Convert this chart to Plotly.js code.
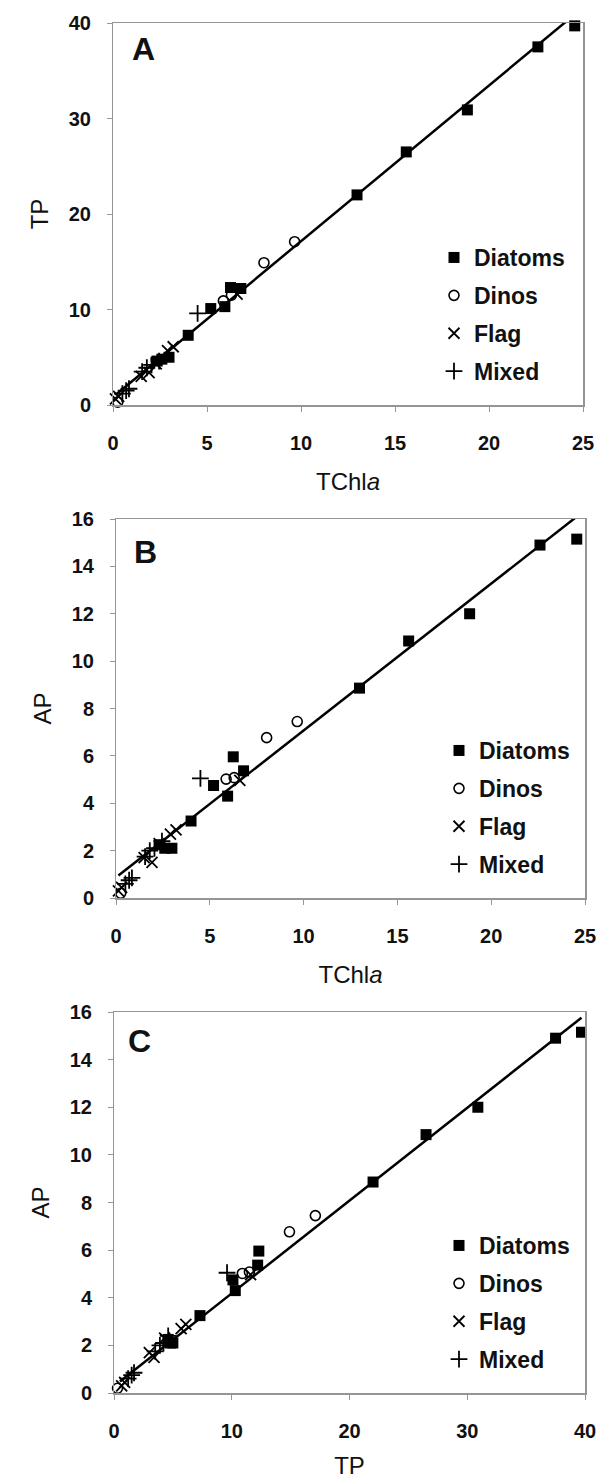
<!DOCTYPE html>
<html>
<head>
<meta charset="utf-8">
<script src="https://cdn.plot.ly/plotly-3.0.1.min.js"></script>
<style>
html,body{margin:0;padding:0;background:#fff;}
#chart{width:599px;height:1481px;}
</style>
</head>
<body>
<div id="chart"></div>
<script>
// ---------- data ----------
const groupNames = ["Diatoms", "Dinos", "Flag", "Mixed"];

const diatomsTChla = [24.56, 22.6, 18.85, 15.6, 12.98, 6.25, 6.8, 5.2, 5.95, 4.0, 2.98, 2.6, 2.35];
const diatomsTP    = [39.7, 37.5, 30.9, 26.5, 22.0, 12.3, 12.2, 10.1, 10.3, 7.3, 5.0, 4.8, 4.6];
const diatomsAP    = [15.15, 14.9, 12.0, 10.85, 8.86, 5.96, 5.37, 4.75, 4.3, 3.25, 2.1, 2.1, 2.25];

const dinosTChla = [9.66, 8.03, 5.87, 6.3, 0.25];
const dinosTP    = [17.1, 14.9, 10.9, 11.5, 0.3];
const dinosAP    = [7.45, 6.77, 5.02, 5.08, 0.2];

const flagTChla = [0.13, 0.3, 1.92, 1.5, 2.3, 3.2, 2.9, 6.6];
const flagTP    = [0.65, 0.9, 3.4, 3.0, 4.3, 6.1, 5.7, 11.6];
const flagAP    = [0.3, 0.45, 1.5, 1.7, 2.3, 2.88, 2.7, 4.97];

const mixedTChla = [4.5, 0.5, 0.7, 0.85, 1.55, 1.8, 2.05, 2.45];
const mixedTP    = [9.6, 1.2, 1.5, 1.7, 3.5, 3.9, 4.2, 4.6];
const mixedAP    = [5.05, 0.6, 0.75, 0.85, 1.75, 2.0, 2.1, 2.4];

// trend-line end points
const trendA_x = [0.13, 24.56], trendA_y = [1.05, 40.9];
const trendB_x = [0.13, 24.56], trendB_y = [0.95, 16.1];
const trendC_x = [0.5, 39.7],   trendC_y = [0.48, 15.76];

const panelLabels = ["A", "B", "C"];
const xTitles = ["TChl<i>a</i>", "TChl<i>a</i>", "TP"];
const yTitles = ["TP", "AP", "AP"];

// ---------- layout helpers ----------
const W = 599, H = 1481;
const FONT = "Liberation Sans, Arial, sans-serif";
const px = v => v / W;
const py = v => 1 - v / H;

const markerStyles = [
  {symbol: "square", size: 11, color: "#000", line: {width: 0}},
  {symbol: "circle-open", size: 10, color: "#000", line: {width: 1.6, color: "#000"}},
  {symbol: "x-thin-open", size: 11, color: "#000", line: {width: 1.8, color: "#000"}},
  {symbol: "cross-thin-open", size: 12, color: "#000", line: {width: 1.8, color: "#000"}}
];

const panels = [
  {xs: [diatomsTChla, dinosTChla, flagTChla, mixedTChla], ys: [diatomsTP, dinosTP, flagTP, mixedTP], tx: trendA_x, ty: trendA_y},
  {xs: [diatomsTChla, dinosTChla, flagTChla, mixedTChla], ys: [diatomsAP, dinosAP, flagAP, mixedAP], tx: trendB_x, ty: trendB_y},
  {xs: [diatomsTP, dinosTP, flagTP, mixedTP], ys: [diatomsAP, dinosAP, flagAP, mixedAP], tx: trendC_x, ty: trendC_y}
];

const traces = [];
panels.forEach((p, i) => {
  const ax = i === 0 ? "" : String(i + 1);
  const leg = i === 0 ? "legend" : "legend" + (i + 1);
  // invisible copy on the overlaid label axes so that they get drawn
  traces.push({
    x: p.tx, y: p.ty, mode: "lines", type: "scatter", opacity: 0,
    line: {color: "#fff", width: 0}, showlegend: false,
    xaxis: "x" + (i + 4), yaxis: "y" + (i + 4), hoverinfo: "skip"
  });
  traces.push({
    x: p.tx, y: p.ty, mode: "lines", type: "scatter",
    line: {color: "#000", width: 2.5}, showlegend: false,
    xaxis: "x" + ax, yaxis: "y" + ax, hoverinfo: "skip"
  });
  groupNames.forEach((g, k) => {
    traces.push({
      x: p.xs[k], y: p.ys[k], mode: "markers", type: "scatter", name: g,
      marker: markerStyles[k], cliponaxis: false,
      xaxis: "x" + ax, yaxis: "y" + ax, legend: leg, legendgroup: leg + g
    });
  });
});

const frameColor = "#959595";
const tickFont = {family: FONT, size: 20, color: "#111", weight: "bold"};
const titleFont = {family: FONT, size: 24, color: "#111"};

// frame + short visible ticks
function frameAxis(domain, range, dtick, anchor) {
  return {
    domain: domain, range: range, dtick: dtick, tick0: 0, anchor: anchor,
    showline: true, mirror: true, linecolor: frameColor, linewidth: 1.5,
    ticks: "outside", ticklen: 5, tickwidth: 1, tickcolor: frameColor,
    showgrid: false, zeroline: false, showticklabels: false
  };
}
// overlaid axis carrying tick labels (pushed away with transparent ticks) and title
function labelAxis(over, anchor, side, range, dtick, title, len, standoff) {
  return {
    overlaying: over, anchor: anchor, side: side, range: range, dtick: dtick, tick0: 0,
    showline: false, showgrid: false, zeroline: false,
    ticks: "outside", ticklen: len, tickcolor: "rgba(0,0,0,0)",
    tickfont: tickFont,
    title: {text: title, font: titleFont, standoff: standoff}
  };
}

const legendBase = {
  font: {family: FONT, size: 23, color: "#111", weight: "bold"},
  bgcolor: "rgba(0,0,0,0)", borderwidth: 0, xanchor: "left", yanchor: "top",
  traceorder: "grouped", tracegroupgap: 5, itemclick: false
};

const layout = {
  width: W, height: H,
  margin: {l: 0, r: 0, t: 0, b: 0},
  paper_bgcolor: "#fff", plot_bgcolor: "#fff",
  showlegend: true,
  font: {family: FONT, color: "#111"},
  xaxis:  frameAxis([px(113), px(583)], [0, 25], 5, "y"),
  yaxis:  frameAxis([py(405), py(23)], [0, 40], 10, "x"),
  xaxis2: frameAxis([px(116), px(585)], [0, 25], 5, "y2"),
  yaxis2: frameAxis([py(898), py(519)], [0, 16], 2, "x2"),
  xaxis3: frameAxis([px(114), px(585)], [0, 40], 10, "y3"),
  yaxis3: frameAxis([py(1393), py(1012)], [0, 16], 2, "x3"),
  xaxis4: labelAxis("x",  "y",  "bottom", [0, 25], 5,  xTitles[0], 20, 20),
  yaxis4: labelAxis("y",  "x",  "left",   [0, 40], 10, yTitles[0], 17, 13),
  xaxis5: labelAxis("x2", "y2", "bottom", [0, 25], 5,  xTitles[1], 20, 20),
  yaxis5: labelAxis("y2", "x2", "left",   [0, 16], 2,  yTitles[1], 17, 13),
  xaxis6: labelAxis("x3", "y3", "bottom", [0, 40], 10, xTitles[2], 20, 16),
  yaxis6: labelAxis("y3", "x3", "left",   [0, 16], 2,  yTitles[2], 17, 13),
  legend:  Object.assign({x: px(434), y: py(236)}, legendBase),
  legend2: Object.assign({x: px(439), y: py(729)}, legendBase),
  legend3: Object.assign({x: px(439), y: py(1224)}, legendBase),
  annotations: [
    {text: "<b>" + panelLabels[0] + "</b>", x: px(143), y: py(49)},
    {text: "<b>" + panelLabels[1] + "</b>", x: px(145), y: py(552)},
    {text: "<b>" + panelLabels[2] + "</b>", x: px(139), y: py(1041)}
  ].map(a => Object.assign({xref: "paper", yref: "paper", showarrow: false,
    xanchor: "center", yanchor: "middle", font: {family: FONT, size: 32, color: "#111"}}, a))
};

Plotly.newPlot("chart", traces, layout, {staticPlot: true, displayModeBar: false});
</script>
</body>
</html>
